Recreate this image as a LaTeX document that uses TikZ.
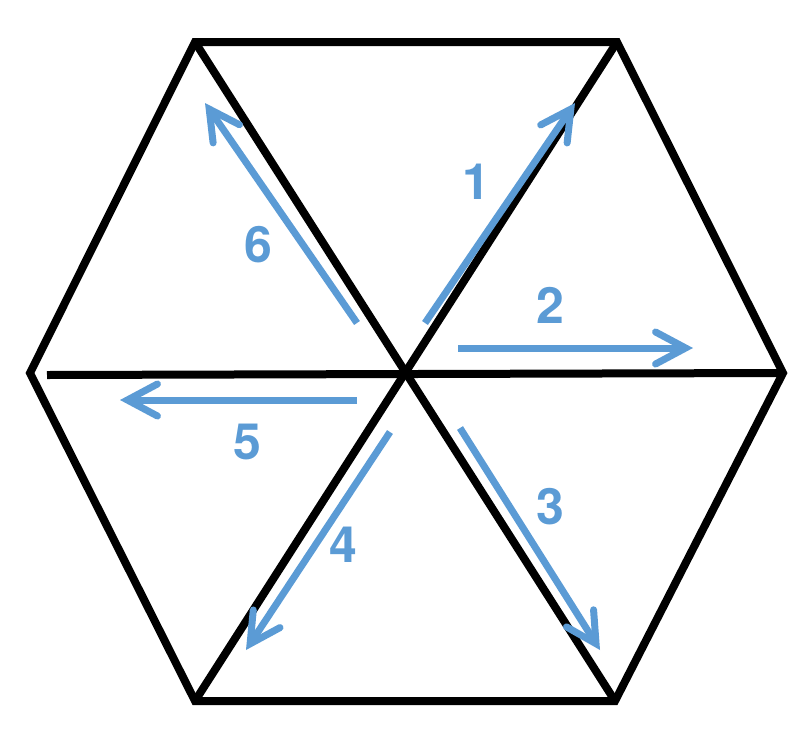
\documentclass[tikz,border=0pt]{standalone}
\usepackage{fontspec}
\setsansfont{TeX Gyre Heros}
\usetikzlibrary{arrows.meta}
\definecolor{moveblue}{RGB}{91,155,213}
\tikzset{
  hexline/.style={line width=8pt, line join=miter},
  move/.style={moveblue, line width=7pt,
    -{Straight Barb[length=30pt, width=32pt, line cap=round, line join=miter]}},
  movenum/.style={text=moveblue, font=\fontsize{50}{60}\selectfont\sffamily\bfseries}
}
\begin{document}
\begin{tikzpicture}[x=1pt,y=-1pt]
\useasboundingbox (0,0) rectangle (810,734);

% corners of the hexagon
\coordinate (tl) at (195,42);
\coordinate (tr) at (617,42);
\coordinate (r) at (783,373);
\coordinate (br) at (615,701);
\coordinate (bl) at (195,701);
\coordinate (l) at (30,373);
\coordinate (c) at (407,375);
\coordinate (hl) at (47,375);

\draw[hexline] (tl) -- (tr) -- (r) -- (br) -- (bl) -- (l) -- cycle;
\draw[hexline] (hl) -- (r);
\draw[hexline] (tl) -- (br);
\draw[hexline] (tr) -- (bl);

% moves
\coordinate (s1) at (425,323); \coordinate (e1) at (575,103);
\coordinate (s2) at (458,348); \coordinate (e2) at (693,348);
\coordinate (s3) at (460,428); \coordinate (e3) at (600,650);
\coordinate (s4) at (390,432); \coordinate (e4) at (246,650);
\coordinate (s5) at (357,400); \coordinate (e5) at (120,400);
\coordinate (s6) at (357,323); \coordinate (e6) at (205,103);

\foreach \i in {1,...,6}
  \draw[move] (s\i) -- (e\i);

\node[movenum] (n1) at (476,182) {1};
\node[movenum] (n2) at (550,305) {2};
\node[movenum] (n3) at (550,507) {3};
\node[movenum] (n4) at (343,545) {4};
\node[movenum] (n5) at (247,442) {5};
\node[movenum] (n6) at (258,245) {6};
\end{tikzpicture}
\end{document}
